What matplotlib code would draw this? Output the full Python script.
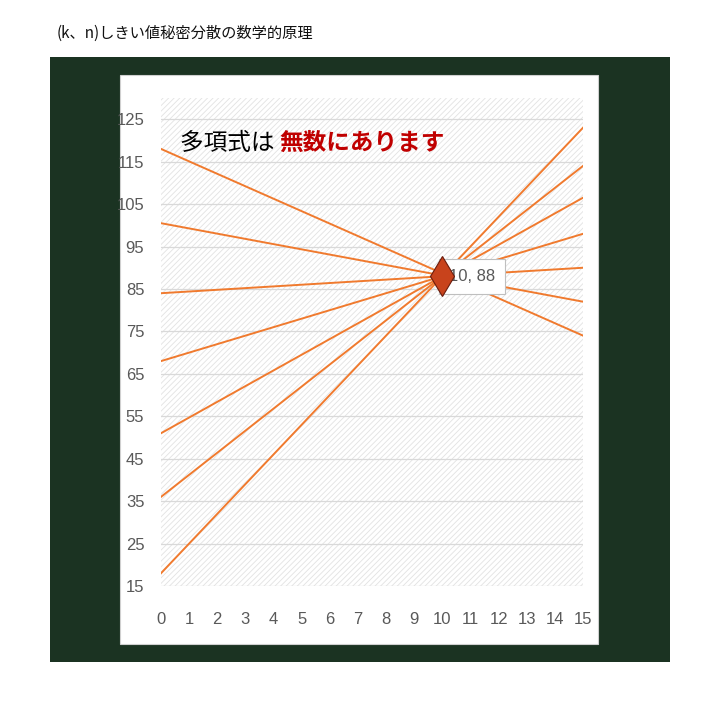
import matplotlib
matplotlib.use("Agg")
import matplotlib.pyplot as plt
from matplotlib.patches import Rectangle

# data
x_left = 0
x_right = 15
left_vals = [118, 100.5, 84, 68, 51, 36, 18]
right_vals = [74, 82, 90, 98, 106.5, 114, 123]
secret_x = 10
secret_y = 88
y_ticks = [15, 25, 35, 45, 55, 65, 75, 85, 95, 105, 115, 125]
x_ticks = list(range(0, 16))

title = "(k、n)しきい値秘密分散の数学的原理"
note_black = "多項式は "
note_red = "無数にあります"

jp = ["Noto Sans CJK JP", "DejaVu Sans"]
num = ["Liberation Sans Narrow", "Liberation Sans", "DejaVu Sans"]

plt.rcParams["hatch.linewidth"] = 0.6

W = H = 720.0


def rect(x0, y0, x1, y1):
    # pixel box (top-left origin) -> figure fraction
    return [x0 / W, 1 - y1 / H, (x1 - x0) / W, (y1 - y0) / H]


def add_box(x0, y0, x1, y1, **kw):
    r = rect(x0, y0, x1, y1)
    fig.patches.append(Rectangle((r[0], r[1]), r[2], r[3],
                                 transform=fig.transFigure, **kw))


fig = plt.figure(figsize=(7.2, 7.2), dpi=100)
fig.patch.set_facecolor("white")

fig.text(57 / W, 1 - 33 / H, title, family=jp, fontsize=11, color="#111111",
         ha="left", va="center")

# dark backdrop and white card
add_box(50, 57, 670, 662, facecolor="#1B3322", edgecolor="none", zorder=0)
add_box(120, 75, 598, 644, facecolor="white", edgecolor="#D0D0D0", lw=0.8, zorder=1)

ax = fig.add_axes(rect(161, 98, 583, 586))
ax.set_zorder(2)
ax.patch.set_facecolor("white")
ax.add_patch(Rectangle((0, 0), 1, 1, transform=ax.transAxes, facecolor="white",
                       edgecolor="#E2E2E2", lw=0, hatch="//////", zorder=0))

for a, b in zip(left_vals, right_vals):
    ax.plot([x_left, x_right], [a, b], color="#F07A2E", lw=1.4, zorder=3)

ax.plot([secret_x], [secret_y], marker="d", markersize=20,
        markerfacecolor="#C8431C", markeredgecolor="#6A1C0C", mew=0.8, zorder=5)
ax.text(secret_x + 0.22, secret_y, "10, 88", family=num, fontsize=12,
        color="#595959", ha="left", va="center", zorder=4,
        bbox=dict(boxstyle="square,pad=0.6", fc="white", ec="#BFBFBF", lw=0.8))

ax.set_xlim(0, 15)
ax.set_ylim(15, 130)
ax.set_xticks(x_ticks)
ax.set_yticks(y_ticks)
ax.grid(axis="y", color="#D9D9D9", lw=0.9)
ax.grid(axis="x", visible=False)
ax.set_axisbelow(True)
for s in ax.spines.values():
    s.set_visible(False)
ax.tick_params(length=0, colors="#595959", labelsize=12)
ax.tick_params(axis="y", pad=12)
ax.tick_params(axis="x", pad=19)
for lab in ax.get_xticklabels() + ax.get_yticklabels():
    lab.set_family(num)

t1 = ax.text(180 / W, 1 - 143 / H, note_black, transform=fig.transFigure,
             family=jp, fontsize=17, color="black", ha="left", va="center", zorder=6)
fig.canvas.draw()
bb = t1.get_window_extent()
ax.text(bb.x1 / W, 1 - 143 / H, note_red, transform=fig.transFigure,
        family=jp, fontsize=17, color="#C00000", fontweight="bold",
        ha="left", va="center", zorder=6)

fig.savefig("out.png", dpi=100, facecolor=fig.get_facecolor())
